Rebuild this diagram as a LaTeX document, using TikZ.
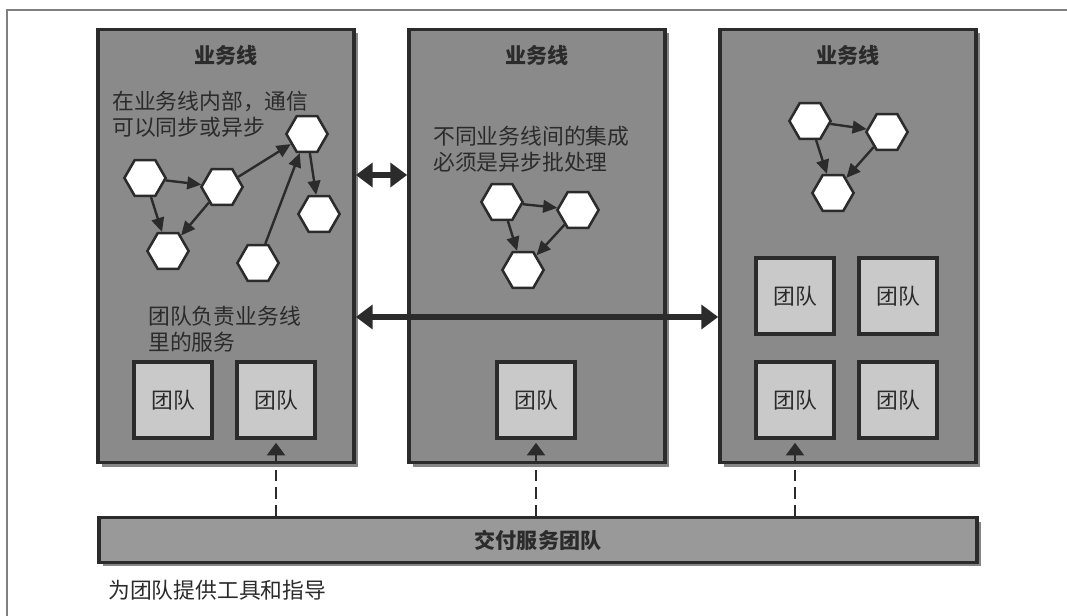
\documentclass[tikz,border=0pt]{standalone}
\usepackage{fontspec}
\setmainfont{Noto Sans CJK SC}
\usetikzlibrary{arrows.meta,shapes.geometric,shadows}

\definecolor{ink}{HTML}{2B2B2B}
\definecolor{lanefill}{HTML}{8A8A8A}
\definecolor{teamfill}{HTML}{C9C9C9}
\definecolor{barfill}{HTML}{999999}

\tikzset{
  panel/.style={draw=ink, line width=2.5pt, fill=lanefill, minimum width=6.4cm, minimum height=10.83cm,
    drop shadow={shadow xshift=0.1cm, shadow yshift=-0.1cm, fill=black!80, opacity=0.6}},
  teambox/.style={draw=ink, line width=2.3pt, fill=teamfill, minimum width=1.95cm, minimum height=1.9cm,
    font=\fontsize{15.5}{18}\selectfont, text=ink},
  lanetitle/.style={font=\bfseries\fontsize{15}{18}\selectfont, text=ink},
  note/.style={font=\fontsize{15.5}{18.4}\selectfont, text=ink, align=left, inner sep=0pt},
  hexa/.style={regular polygon, regular polygon sides=6, draw=ink, line width=1.8pt, fill=white,
    inner sep=0pt, minimum size=1.03cm},
  flow/.style={-{Triangle[length=10pt,width=9pt]}, draw=ink, line width=1.7pt},
  bigarrow/.style={{Triangle[length=12pt,width=17pt]}-{Triangle[length=12pt,width=17pt]}, draw=ink, line width=4.6pt},
  supply/.style={-{Triangle[length=9pt,width=13pt]}, draw=ink, line width=1.5pt, dash pattern=on 0.28cm off 0.15cm}
}

\begin{document}
\begin{tikzpicture}[x=0.025cm, y=-0.025cm]
  \useasboundingbox (0,0) rectangle (1067,616);
  \draw[gray, line width=0.8pt] (7,616) -- (7,10) -- (1067,10);

  % three lines of business
  \foreach \i/\x in {1/226, 2/537, 3/848} {
    \node[panel] (p\i) at (\x,246) {};
    \node[lanetitle] (ttl\i) at (\x,55) {业务线};
  }
  \node[panel, fill=barfill, minimum width=21.95cm, minimum height=1.12cm] (bar) at (538,540) {};
  \node[lanetitle] (barlbl) at (bar) {交付服务团队};
  \node[note, anchor=west] (foot) at (108,590) {为团队提供工具和指导};

  % line 1
  \node[note, anchor=north west] (txt1) at (112,91) {在业务线内部，通信\\可以同步或异步};
  \node[hexa] (a1) at (145,178) {};
  \node[hexa] (a2) at (222,187) {};
  \node[hexa] (a3) at (168,251) {};
  \node[hexa] (a4) at (307,134) {};
  \node[hexa] (a5) at (319,214) {};
  \node[hexa] (a6) at (258,263) {};
  \draw[flow] (a1) -- (a2); \draw[flow] (a1) -- (a3); \draw[flow] (a2) -- (a3);
  \draw[flow] (a2) -- (a4); \draw[flow] (a6) -- (a4); \draw[flow] (a4) -- (a5);
  \node[note, anchor=north west] (txt2) at (148,306) {团队负责业务线\\里的服务};
  \node[teambox] (t11) at (173,400) {团队};
  \node[teambox] (t12) at (276,400) {团队};

  % line 2
  \node[note, anchor=north west] (txt3) at (433,126) {不同业务线间的集成\\必须是异步批处理};
  \node[hexa] (b1) at (502,202) {};
  \node[hexa] (b2) at (578,210) {};
  \node[hexa] (b3) at (523,270) {};
  \draw[flow] (b1) -- (b2); \draw[flow] (b1) -- (b3); \draw[flow] (b2) -- (b3);
  \node[teambox] (t21) at (536,400) {团队};

  % line 3
  \node[hexa] (c1) at (810,121) {};
  \node[hexa] (c2) at (887,132) {};
  \node[hexa] (c3) at (833,193) {};
  \draw[flow] (c1) -- (c2); \draw[flow] (c1) -- (c3); \draw[flow] (c2) -- (c3);
  \node[teambox] (t31) at (795,296) {团队};
  \node[teambox] (t32) at (898,296) {团队};
  \node[teambox] (t33) at (795,400) {团队};
  \node[teambox] (t34) at (898,400) {团队};

  % integration between lines
  \coordinate (lvl1) at (0,175);
  \coordinate (lvl2) at (0,317);
  \draw[bigarrow] (p1.east |- lvl1) -- (p2.west |- lvl1);
  \draw[bigarrow] (p1.east |- lvl2) -- (p3.west |- lvl2);

  % delivery team support
  \foreach \t in {t12, t21, t33}
    \draw[supply] (bar.north -| \t) -- ([yshift=-0.08cm]\t.south);
\end{tikzpicture}
\end{document}
